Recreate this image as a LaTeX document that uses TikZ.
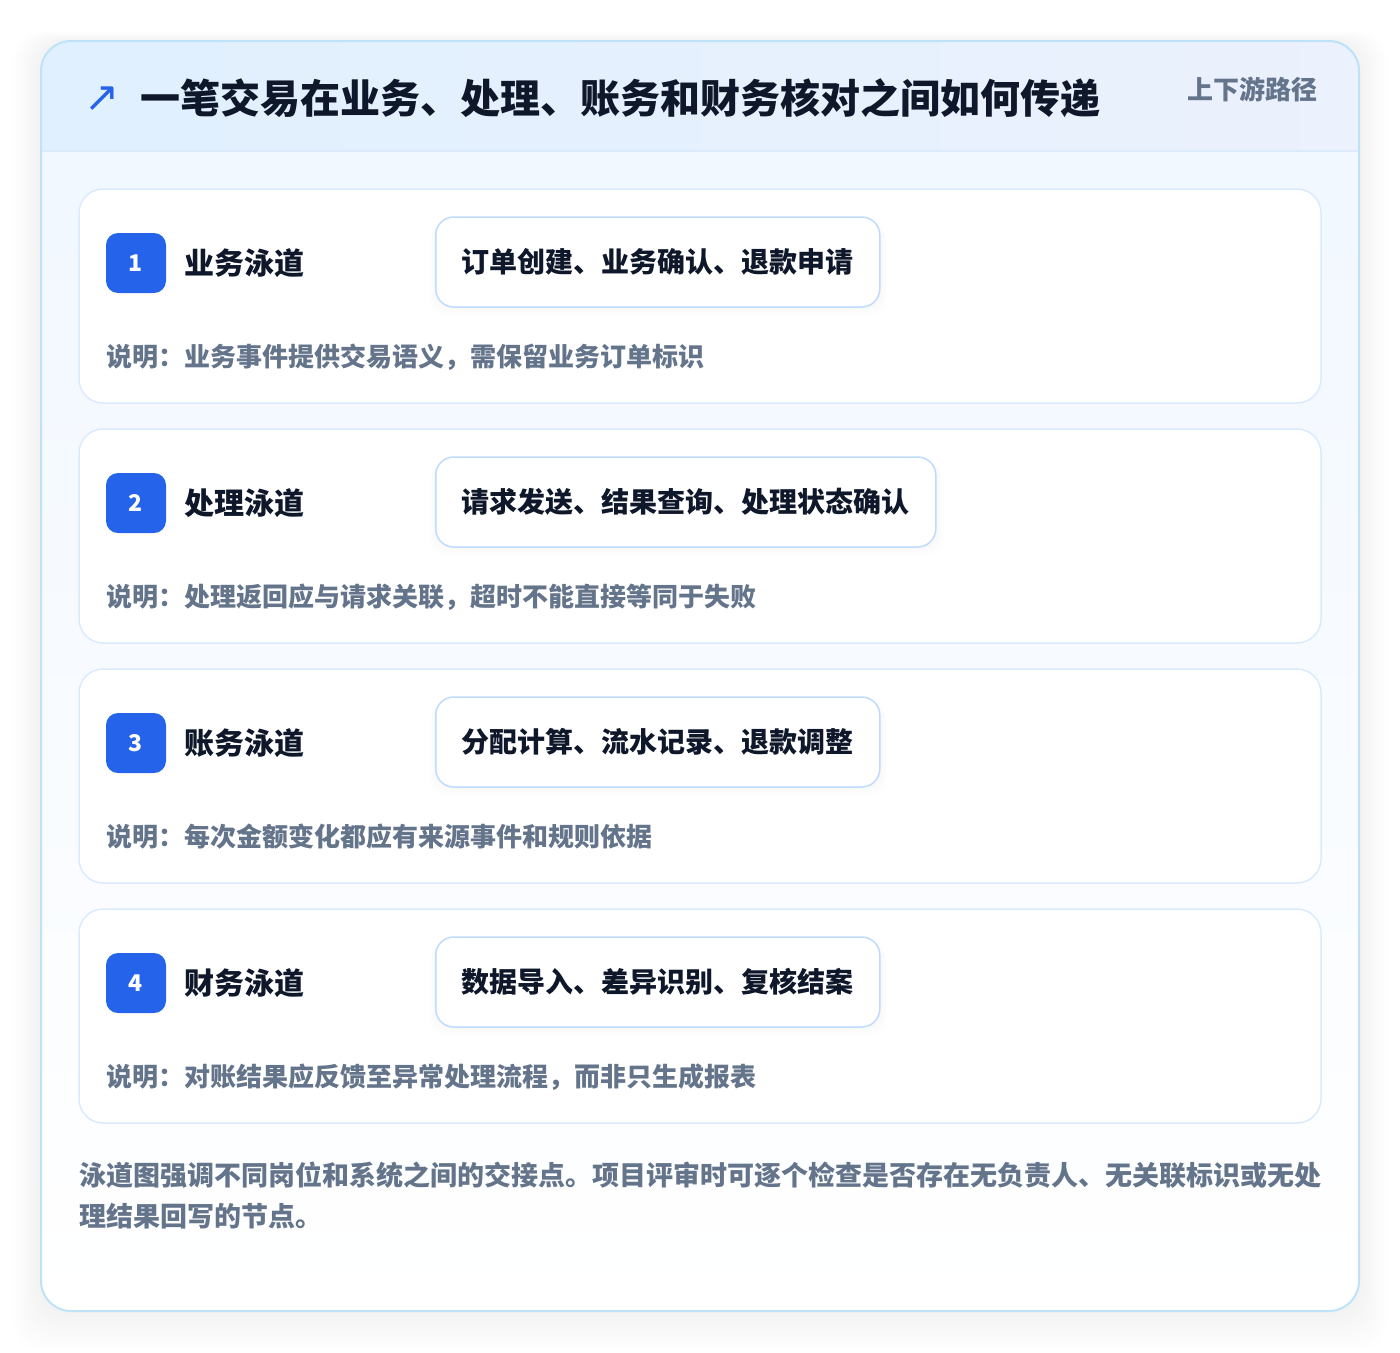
\documentclass[tikz,border=0pt]{standalone}
\usepackage{fontspec}
\setmainfont{Noto Sans CJK SC}
\newfontfamily\symfont{DejaVu Sans}
\usetikzlibrary{positioning}

\definecolor{inkdark}{HTML}{0F172A}
\definecolor{mutedgray}{HTML}{64748B}
\definecolor{badgeblue}{HTML}{2563EB}
\definecolor{cardline}{HTML}{BEE3F8}
\definecolor{laneline}{HTML}{DBEAFE}
\definecolor{pillline}{HTML}{BFDBFE}
\definecolor{headleft}{HTML}{E0F0FE}
\definecolor{headright}{HTML}{EBF1FD}
\definecolor{headline}{HTML}{DCEBFB}
\definecolor{bodytop}{HTML}{F0F7FF}

\tikzset{
  lanebox/.style={draw=laneline, line width=1.5pt, fill=white, rounded corners=24pt},
  badge/.style={fill=badgeblue, rounded corners=12pt, minimum size=60pt, inner sep=0pt,
    text=white, font=\bfseries\fontsize{23}{23}\selectfont},
  lanetitle/.style={anchor=west, inner sep=0pt, text=inkdark, font=\bfseries\fontsize{30}{30}\selectfont},
  pill/.style={draw=pillline, line width=1.5pt, fill=white, rounded corners=18pt, minimum height=90pt,
    inner xsep=26pt, anchor=west, text=inkdark, font=\bfseries\fontsize{28}{28}\selectfont},
  note/.style={anchor=west, inner sep=0pt, text=mutedgray, font=\bfseries\fontsize{26}{26}\selectfont},
  footnote/.style={anchor=west, inner sep=0pt, text=mutedgray, font=\bfseries\fontsize{27}{27}\selectfont},
}

\begin{document}
\begin{tikzpicture}[x=1pt, y=-1pt]
    \useasboundingbox[fill=white] (0,0) rectangle (1400,1352);

    % soft shadow round the card
    \foreach \k in {3,6,...,36}
        \fill[black, opacity=0.004, rounded corners=30pt] (41-\k*0.8,41-\k/4) rectangle (1359+\k*0.8,1311+\k*1.1);

    % card body
    \path[top color=bodytop, bottom color=white, rounded corners=30pt] (41,41) rectangle (1359,1311);
    \begin{scope}
        \clip[rounded corners=30pt] (41,41) rectangle (1359,1311);
        \path[left color=headleft, right color=headright] (41,41) rectangle (1359,151);
        \draw[headline, line width=1.5pt] (41,151) -- (1359,151);
    \end{scope}
    \draw[cardline, line width=2pt, rounded corners=30pt] (41,41) rectangle (1359,1311);

    % header
    \node[anchor=center, inner sep=0pt, text=badgeblue, font=\symfont\fontsize{42}{42}\selectfont] (icon) at (102,99) {↗};
    \node[anchor=west, inner sep=0pt, text=inkdark, font=\bfseries\fontsize{40}{40}\selectfont] (title) at (140,98)
        {一笔交易在业务、处理、账务和财务核对之间如何传递};
    \node[anchor=east, inner sep=0pt, text=mutedgray, font=\bfseries\fontsize{26}{26}\selectfont] (tag) at (1318,89) {上下游路径};

    % lanes
    \foreach \n/\lane/\steps/\w/\remark [count=\i from 0] in {
        1/业务泳道/{订单创建、业务确认、退款申请}/446/{说明：业务事件提供交易语义，需保留业务订单标识},
        2/处理泳道/{请求发送、结果查询、处理状态确认}/502/{说明：处理返回应与请求关联，超时不能直接等同于失败},
        3/账务泳道/{分配计算、流水记录、退款调整}/446/{说明：每次金额变化都应有来源事件和规则依据},
        4/财务泳道/{数据导入、差异识别、复核结案}/446/{说明：对账结果应反馈至异常处理流程，而非只生成报表}} {
        \pgfmathsetmacro\top{189+240*\i}
        \path[lanebox] (79,\top) rectangle (1321,\top+214);
        \node[badge] (badge\n) at (136,\top+74) {\n};
        \node[lanetitle] (lane\n) at (184,\top+74) {\lane};
        \foreach \s in {1,...,6}
            \fill[black, opacity=0.005, rounded corners=18pt] (435-\s,\top+28+\s) rectangle (435+\w+\s,\top+118+\s*1.6);
        \node[pill] (steps\n) at (435,\top+73) {\steps};
        \node[note] (note\n) at (106,\top+168) {\remark};
    }

    % closing remark
    \node[footnote] (foot1) at (79,1175) {泳道图强调不同岗位和系统之间的交接点。项目评审时可逐个检查是否存在无负责人、无关联标识或无处};
    \node[footnote, below=15pt of foot1.south west, anchor=north west] (foot2) {理结果回写的节点。};
\end{tikzpicture}
\end{document}
